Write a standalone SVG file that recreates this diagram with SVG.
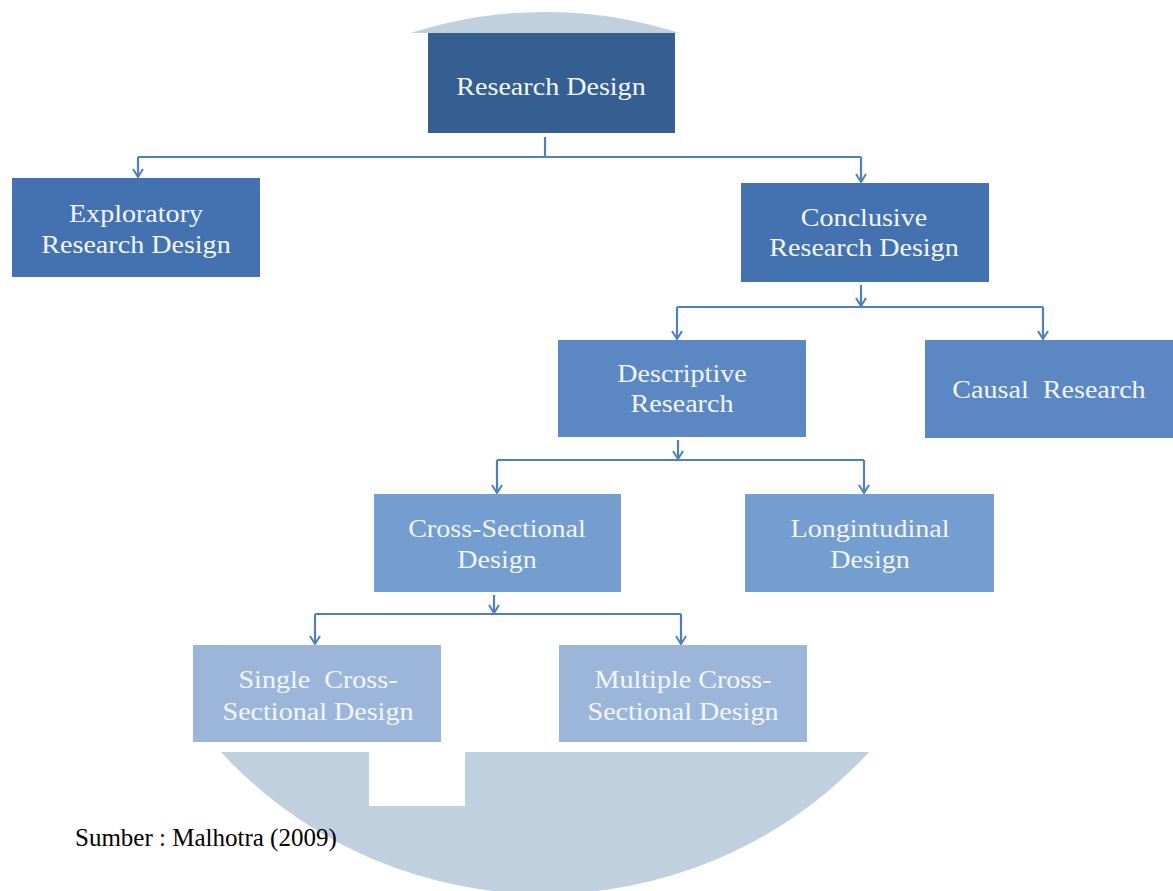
<svg xmlns="http://www.w3.org/2000/svg" width="1173" height="891" viewBox="0 0 1173 891">
<style>
.lbl{font-family:"Liberation Serif","DejaVu Serif",serif;font-size:26px;fill:#f2f6fb;text-anchor:middle;white-space:pre}
.conn{stroke:#4f7fbd;stroke-width:2.2;fill:none}
.l1{fill:#365f91}
.l2{fill:#4472b0}
.l3{fill:#5b88c2}
.l4{fill:#749dd0}
.l5{fill:#9cb6da}
.src{font-family:"Liberation Serif","DejaVu Serif",serif;font-size:25px;fill:#000}
</style>
<defs>
<marker id="arr" viewBox="0 0 10 12" refX="9" refY="6" markerWidth="10" markerHeight="12" markerUnits="userSpaceOnUse" orient="auto">
<path d="M1,1 L9,6 L1,11" fill="none" stroke="#4f7fbd" stroke-width="2"/>
</marker>
</defs>
<rect width="1173" height="891" fill="#ffffff"/>
<g id="watermark">
<circle cx="545" cy="453" r="441" fill="#c1d0de"/>
<rect x="0" y="33" width="1173" height="719" fill="#ffffff"/>
<rect x="369" y="752" width="96" height="54" fill="#ffffff"/>
</g>
<g id="connectors">
<path class="conn" d="M545,137 V157"/>
<path class="conn" d="M138,157 H861"/>
<path class="conn" d="M138,157 V177" marker-end="url(#arr)"/>
<path class="conn" d="M861,157 V182" marker-end="url(#arr)"/>
<path class="conn" d="M861,285 V306" marker-end="url(#arr)"/>
<path class="conn" d="M677,307 H1043"/>
<path class="conn" d="M677,307 V339" marker-end="url(#arr)"/>
<path class="conn" d="M1043,307 V339" marker-end="url(#arr)"/>
<path class="conn" d="M678,440 V459" marker-end="url(#arr)"/>
<path class="conn" d="M497,460 H864"/>
<path class="conn" d="M497,460 V493" marker-end="url(#arr)"/>
<path class="conn" d="M864,460 V493" marker-end="url(#arr)"/>
<path class="conn" d="M494,595 V613" marker-end="url(#arr)"/>
<path class="conn" d="M315,614 H681"/>
<path class="conn" d="M315,614 V644" marker-end="url(#arr)"/>
<path class="conn" d="M681,614 V644" marker-end="url(#arr)"/>
</g>
<g id="research-design">
<rect class="l1" x="428" y="33" width="247" height="100"/>
<text class="lbl" transform="translate(551 95) scale(1.08 1)">Research Design</text>
</g>
<g id="exploratory">
<rect class="l2" x="12" y="178" width="248" height="99"/>
<text class="lbl" transform="translate(136 222) scale(1.08 1)">Exploratory</text>
<text class="lbl" transform="translate(136 253) scale(1.08 1)">Research Design</text>
</g>
<g id="conclusive">
<rect class="l2" x="741" y="183" width="248" height="99"/>
<text class="lbl" transform="translate(864 226) scale(1.08 1)">Conclusive</text>
<text class="lbl" transform="translate(864 256) scale(1.08 1)">Research Design</text>
</g>
<g id="descriptive">
<rect class="l3" x="558" y="340" width="248" height="97"/>
<text class="lbl" transform="translate(682 382) scale(1.08 1)">Descriptive</text>
<text class="lbl" transform="translate(682 412) scale(1.08 1)">Research</text>
</g>
<g id="causal">
<rect class="l3" x="925" y="340" width="248" height="98"/>
<text class="lbl" transform="translate(1049 398) scale(1.08 1)">Causal  Research</text>
</g>
<g id="cross-sectional">
<rect class="l4" x="374" y="494" width="247" height="98"/>
<text class="lbl" transform="translate(497 537) scale(1.08 1)">Cross-Sectional</text>
<text class="lbl" transform="translate(497 568) scale(1.08 1)">Design</text>
</g>
<g id="longitudinal">
<rect class="l4" x="745" y="494" width="249" height="98"/>
<text class="lbl" transform="translate(870 537) scale(1.08 1)">Longintudinal</text>
<text class="lbl" transform="translate(870 568) scale(1.08 1)">Design</text>
</g>
<g id="single">
<rect class="l5" x="193" y="645" width="248" height="97"/>
<text class="lbl" transform="translate(318 688) scale(1.08 1)">Single  Cross-</text>
<text class="lbl" transform="translate(318 720) scale(1.08 1)">Sectional Design</text>
</g>
<g id="multiple">
<rect class="l5" x="559" y="645" width="248" height="97"/>
<text class="lbl" transform="translate(683 688) scale(1.08 1)">Multiple Cross-</text>
<text class="lbl" transform="translate(683 720) scale(1.08 1)">Sectional Design</text>
</g>
<text class="src" x="75" y="846">Sumber : Malhotra (2009)</text>
</svg>
